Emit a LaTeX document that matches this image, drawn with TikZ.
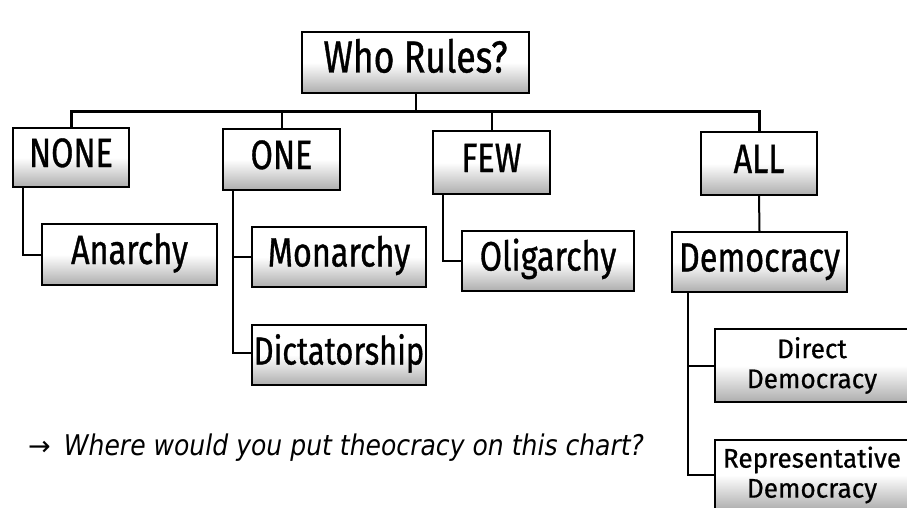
\documentclass[tikz,border=0pt]{standalone}
\usepackage{fontspec}
\newfontfamily\boxfont[FakeStretch=0.79,FakeBold=0.8]{Fira Sans}
\newfontfamily\smallboxfont[FakeStretch=0.97,FakeBold=0.6]{Fira Sans}
\newfontfamily\qfont[FakeStretch=0.88]{DejaVu Sans}
\newfontfamily\arrowfont{DejaVu Sans}
\pgfdeclareverticalshading{boxshade}{100bp}{color(0bp)=(black!32); color(25bp)=(black!32); color(50bp)=(white); color(100bp)=(white)}
\tikzset{
  box/.style={draw=black, line width=1.2pt, shading=boxshade, inner sep=0pt, align=center},
  bigtxt/.style={font=\boxfont\fontsize{45}{45}\selectfont, text height=31pt, text depth=11pt},
  midtxt/.style={font=\boxfont\fontsize{41}{41}\selectfont, text height=29pt, text depth=10pt},
  smalltxt/.style={font=\smallboxfont\fontsize{27}{30}\selectfont},
  conn/.style={line width=2pt, line join=miter},
  busline/.style={line width=3pt, line join=miter},
}
\begin{document}
\begin{tikzpicture}[x=1pt,y=-1pt]
\useasboundingbox (0,0) rectangle (907,508);
\fill[white] (0,0) rectangle (907,508);
\clip (0,0) rectangle (907,508);
% boxes
\node[box, bigtxt, minimum width=227pt, minimum height=61pt] (who) at (415.5,62.5) {Who Rules?};
\node[box, midtxt, minimum width=116pt, minimum height=59pt] (none) at (71,157.5) {NONE};
\node[box, midtxt, minimum width=117pt, minimum height=61pt] (one) at (281.5,159.5) {ONE};
\node[box, midtxt, minimum width=117pt, minimum height=63pt] (few) at (491.5,162.5) {FEW};
\node[box, midtxt, minimum width=116pt, minimum height=63pt] (all) at (759,163.5) {ALL};
\node[box, midtxt, minimum width=175pt, minimum height=61pt] (anarchy) at (129.5,254.5) {Anarchy};
\node[box, midtxt, minimum width=174pt, minimum height=60pt] (monarchy) at (339,257) {Monarchy};
\node[box, midtxt, font=\boxfont\fontsize{39}{39}\selectfont, minimum width=174pt, minimum height=60pt] (dict) at (339,355) {Dictatorship};
\node[box, midtxt, minimum width=172pt, minimum height=60pt] (olig) at (548,261) {Oligarchy};
\node[box, midtxt, minimum width=175pt, minimum height=60pt] (demo) at (759.5,262) {Democracy};
\node[box, smalltxt, minimum width=194pt, minimum height=73pt] (direct) at (812,365.5) {Direct\\Democracy};
\node[box, smalltxt, minimum width=194pt, minimum height=70pt] (rep) at (812,475) {Representative\\Democracy};
% connectors
\coordinate (bus) at (0,112);
\draw[conn] (who.south) -- (who.south |- bus);
\draw[busline] (none.north) |- (all.north |- bus) -- (all.north);
\draw[conn] (one.north) -- (one.north |- bus);
\draw[conn] (few.north) -- (few.north |- bus);
\draw[conn] ([xshift=11pt]none.south west) |- (anarchy.west);
\draw[conn] ([xshift=11pt]one.south west) |- (monarchy.west);
\draw[conn] ([xshift=11pt]one.south west) |- ([yshift=2pt]dict.west);
\draw[conn] ([xshift=11pt]few.south west) |- (olig.west);
\draw[conn] (all.south) -- (demo.north);
\draw[conn] ([xshift=17pt]demo.south west) |- (direct.west);
\draw[conn] ([xshift=17pt]demo.south west) |- (rep.west);
% question
\node[anchor=base west, inner sep=0pt, font=\qfont\itshape\fontsize{28.5}{28.5}\selectfont] (q) at (28,455) {{\arrowfont\fontsize{27}{27}\selectfont →}\hspace{13pt}Where would you put theocracy on this chart?};
\end{tikzpicture}
\end{document}
